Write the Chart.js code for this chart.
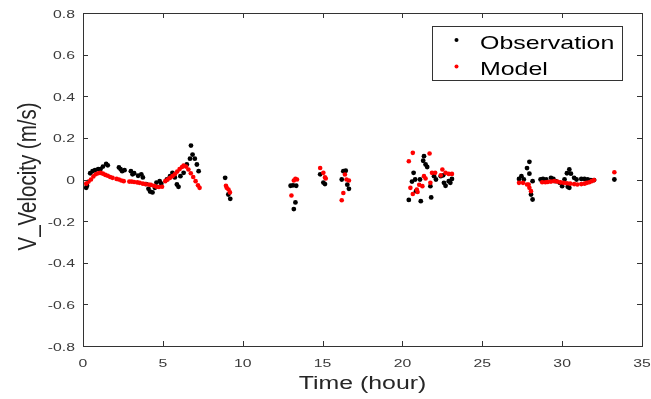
<!DOCTYPE html>
<html><head><meta charset="utf-8">
<script src="https://cdn.jsdelivr.net/npm/chart.js@4/dist/chart.umd.min.js"></script>
<style>
html,body{margin:0;padding:0;background:#fff;}
</style></head><body>
<canvas id="c" width="651" height="399"></canvas>
<script>
const xTicks=[0,5,10,15,20,25,30,35];
const yTicks=[-0.8,-0.6,-0.4,-0.2,0,0.2,0.4,0.6,0.8];
const xTitle='Time (hour)';
const yTitle='V_Velocity (m/s)';
const seriesNames=["Observation","Model"];
const obsT=[0.2,0.25,0.45,0.6,0.75,0.95,1.1,1.25,1.45,1.55,
2.25,2.35,2.45,2.6,
3.0,3.1,3.2,3.45,3.65,3.75,3.95,4.1,4.2,4.35,4.5,4.6,4.8,4.9,
5.25,5.45,5.6,5.75,5.88,5.98,6.1,6.3,6.5,6.7,6.76,6.86,7.0,7.13,7.24,
8.9,9.1,9.22,
13.0,13.15,13.35,13.3,13.2,
14.85,15.05,15.15,
16.2,16.3,16.45,16.55,16.65,
20.4,20.6,20.7,20.8,20.85,21.1,21.15,21.3,21.35,21.45,21.55,21.75,21.8,21.98,22.1,22.4,22.55,22.6,22.7,22.9,23.0,23.1,
27.3,27.45,27.6,27.8,27.95,27.95,28.05,28.15,28.15,
28.65,28.8,29.0,29.3,29.45,29.6,29.85,30.0,30.15,30.3,30.45,30.55,30.35,30.45,30.75,30.9,31.2,31.4,31.6,31.8,32.0,33.27];
const obsV=[-0.04,-0.03,0.03,0.04,0.045,0.05,0.05,0.062,0.075,0.068,
0.058,0.05,0.04,0.045,
0.04,0.025,0.03,0.018,0.025,0.01,-0.022,-0.045,-0.058,-0.062,-0.04,-0.015,-0.008,-0.02,
0.0,0.016,0.032,0.01,-0.024,-0.035,0.016,0.032,0.072,0.1,0.163,0.12,0.1,0.072,0.04,
0.008,-0.072,-0.093,
-0.03,-0.028,-0.03,-0.11,-0.142,
0.025,-0.015,-0.022,
0.0,0.04,0.042,-0.025,-0.045,
-0.098,-0.01,0.032,0.0,-0.056,0.0,-0.104,0.09,0.112,0.072,0.06,-0.032,-0.086,0.016,0.0,0.016,0.02,-0.016,-0.03,-0.008,-0.016,0.003,
0.003,0.016,0.0,0.055,0.085,0.028,-0.072,-0.096,-0.008,
0.0,0.003,0.0,0.008,0.003,-0.008,-0.016,-0.032,0.0,0.03,0.048,0.028,-0.035,-0.04,0.008,0.0,0.003,0.003,0.0,-0.003,-0.003,0.0];
const modT=[0.2,0.35,0.5,0.65,0.8,0.95,1.1,1.25,1.4,1.55,1.7,1.85,
2.1,2.25,2.4,2.55,2.9,3.05,3.2,3.4,3.55,3.75,3.9,4.1,4.25,4.45,4.6,4.75,4.95,
5.15,5.3,5.45,5.6,5.75,5.9,6.05,6.2,6.3,6.45,6.6,6.75,6.9,7.05,7.2,7.3,
8.95,9.0,9.11,9.2,
13.05,13.2,13.3,13.4,
14.85,15.05,15.2,15.15,
16.2,16.3,16.4,16.5,16.65,
20.4,20.65,20.5,20.65,20.9,20.95,21.05,21.25,21.35,21.45,21.7,21.75,21.85,22.05,22.4,22.5,22.7,22.9,23.1,
27.3,27.55,27.8,27.9,27.95,28.05,28.75,28.95,29.1,29.3,29.5,29.7,29.9,30.1,30.3,30.5,30.75,30.95,31.2,31.4,31.55,31.7,31.85,32.0,33.27];
const modV=[-0.02,-0.01,0.0,0.015,0.025,0.03,0.032,0.028,0.022,0.018,0.012,0.008,
0.003,0.0,-0.005,-0.008,-0.01,-0.01,-0.012,-0.014,-0.016,-0.02,-0.022,-0.024,-0.026,-0.03,-0.035,-0.036,-0.035,
-0.008,0.0,0.008,0.016,0.025,0.038,0.05,0.06,0.067,0.062,0.048,0.03,0.012,-0.008,-0.028,-0.04,
-0.03,-0.04,-0.048,-0.062,
-0.077,-0.005,0.003,0.0,
0.055,0.032,0.005,0.01,
-0.1,-0.065,0.024,0.0,-0.005,
0.088,0.128,-0.04,-0.07,-0.048,-0.06,-0.025,-0.032,0.016,0.005,0.125,-0.016,0.032,0.032,0.02,0.048,0.032,0.027,0.027,
-0.016,-0.016,-0.024,-0.024,-0.04,-0.056,-0.013,-0.013,-0.012,-0.01,-0.008,-0.01,-0.014,-0.016,-0.018,-0.02,-0.022,-0.024,-0.022,-0.02,-0.016,-0.013,-0.008,-0.003,0.035];

const toPts=(t,v)=>t.map((x,i)=>({x:x,y:v[i]}));
const colors=["#000000","#ff0000"];
const FONT='"Liberation Sans", Arial, Helvetica, sans-serif';
const SX=1.36; // horizontal stretch of the original figure's text

function sText(ctx,str,x,y,size,align,color,sx,rot){
  ctx.save();
  ctx.translate(x,y);ctx.scale(sx,1);
  if(rot)ctx.rotate(rot);
  ctx.font=size+'px '+FONT;ctx.fillStyle=color;ctx.textAlign=align;
  ctx.textBaseline=rot?'middle':'alphabetic';
  ctx.fillText(str,0,0);ctx.restore();
}
const fmt=v=>String(Math.round(v*10)/10);

const framePlugin={id:'frame',afterDraw(chart){
  const {ctx,chartArea:a,scales}=chart;
  ctx.save();
  ctx.strokeStyle='#333';ctx.lineWidth=1;
  ctx.strokeRect(Math.round(a.left)+0.5,Math.round(a.top)+0.5,Math.round(a.right-a.left),Math.round(a.bottom-a.top));
  const L=5;
  ctx.beginPath();
  xTicks.forEach(v=>{const p=Math.round(scales.x.getPixelForValue(v))+0.5;
    ctx.moveTo(p,a.bottom);ctx.lineTo(p,a.bottom-L);ctx.moveTo(p,a.top);ctx.lineTo(p,a.top+L);});
  yTicks.forEach(v=>{const p=Math.round(scales.y.getPixelForValue(v))+0.5;
    ctx.moveTo(a.left,p);ctx.lineTo(a.left+L,p);ctx.moveTo(a.right,p);ctx.lineTo(a.right-L,p);});
  ctx.stroke();ctx.restore();
  // tick labels
  xTicks.forEach(v=>sText(ctx,fmt(v),scales.x.getPixelForValue(v),a.bottom+20.7,11.6,'center','#3a3a3a',SX));
  yTicks.forEach(v=>sText(ctx,fmt(v),a.left-8,scales.y.getPixelForValue(v)+4.6,11.6,'right','#3a3a3a',SX));
  // axis titles
  sText(ctx,xTitle,(a.left+a.right)/2,a.bottom+42.5,18.3,'center','#262626',SX);
  sText(ctx,yTitle,29,(a.top+a.bottom)/2-3,20.5,'center','#262626',1.28,-Math.PI/2);
  // legend
  const lx=432.5,ly=26.5,lw=190,lh=54;
  ctx.save();ctx.fillStyle='#fff';ctx.fillRect(lx,ly,lw,lh);
  ctx.strokeStyle='#333';ctx.lineWidth=1;ctx.strokeRect(lx,ly,lw,lh);ctx.restore();
  chart.data.datasets.forEach((d,i)=>{
    const cy=ly+13.5+i*26.5;
    ctx.save();ctx.fillStyle=d.backgroundColor;ctx.beginPath();ctx.arc(lx+24,cy,2,0,Math.PI*2);ctx.fill();ctx.restore();
    sText(ctx,d.label,lx+47.5,cy+8.5,18.6,'left','#000',1.34);
  });
}};

const chart=new Chart(document.getElementById('c'),{
  type:'scatter',
  data:{datasets:[
    {label:seriesNames[0],data:toPts(obsT,obsV),backgroundColor:colors[0],borderColor:colors[0],pointRadius:2.4,borderWidth:0,order:1},
    {label:seriesNames[1],data:toPts(modT,modV),backgroundColor:colors[1],borderColor:colors[1],pointRadius:2.3,borderWidth:0,order:0}
  ]},
  options:{
    responsive:false,animation:false,
    layout:{padding:{top:13,right:9,left:0,bottom:0}},
    plugins:{legend:{display:false},tooltip:{enabled:false}},
    scales:{
      x:{type:'linear',min:0,max:35,
        afterBuildTicks:s=>{s.ticks=xTicks.map(v=>({value:v}));},
        afterFit:s=>{s.height=53;},
        grid:{display:false,drawTicks:false},border:{display:false},
        ticks:{display:false}},
      y:{type:'linear',min:-0.8,max:0.8,
        afterBuildTicks:s=>{s.ticks=yTicks.map(v=>({value:v}));},
        afterFit:s=>{s.width=83;},
        grid:{display:false,drawTicks:false},border:{display:false},
        ticks:{display:false}}
    }
  },
  plugins:[framePlugin]
});
</script></body></html>
